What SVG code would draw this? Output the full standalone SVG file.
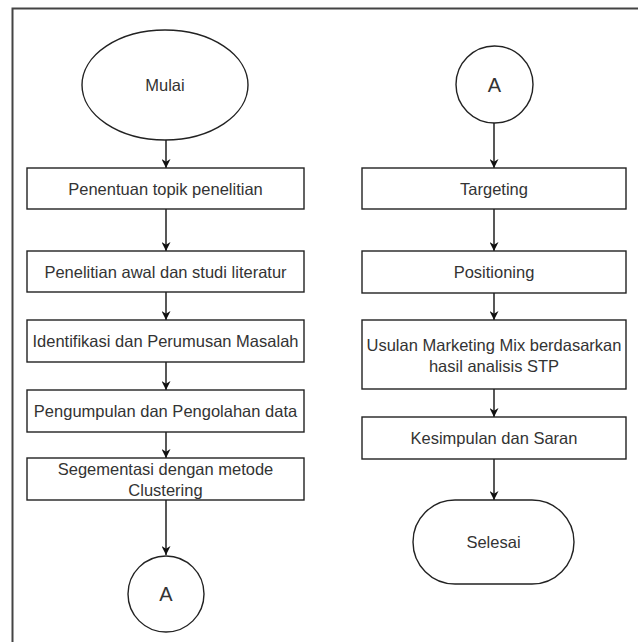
<svg xmlns="http://www.w3.org/2000/svg" width="638" height="642" viewBox="0 0 638 642">
<defs>
<style>
.s{fill:#fff;stroke:#222;stroke-width:1.4}
.t{font-family:"Liberation Sans",Arial,sans-serif;font-size:16.5px;fill:#333;text-anchor:middle;dominant-baseline:central}
.c{stroke:#111;stroke-width:1.4;fill:none;marker-end:url(#ah)}
</style>
<marker id="ah" viewBox="0 0 10 10" refX="10" refY="5" markerWidth="9" markerHeight="9" markerUnits="userSpaceOnUse" orient="auto">
<path d="M0,0 L10,5 L0,10 L3,5 Z" fill="#111"/>
</marker>
</defs>
<rect width="638" height="642" fill="#fff"/>
<g id="frame" stroke="#444" stroke-width="2" fill="none">
<path d="M12.5,642 V8.5 H638"/>
</g>
<g id="connectors">
<path class="c" d="M166,140 V168"/>
<path class="c" d="M166,209 V251"/>
<path class="c" d="M166,292 V320"/>
<path class="c" d="M166,362 V390"/>
<path class="c" d="M166,432 V458"/>
<path class="c" d="M166,500 V555"/>
<path class="c" d="M494,123 V168"/>
<path class="c" d="M494,209 V251"/>
<path class="c" d="M494,293 V320"/>
<path class="c" d="M494,389 V417"/>
<path class="c" d="M494,459 V500"/>
</g>
<g id="mulai"><ellipse class="s" cx="165" cy="85" rx="83" ry="55"/><text class="t" x="165" y="85">Mulai</text></g>
<g id="n1"><rect class="s" x="27" y="168" width="277" height="41"/><text class="t" x="165.5" y="188.5">Penentuan topik penelitian</text></g>
<g id="n2"><rect class="s" x="27" y="251" width="277" height="41"/><text class="t" x="165.5" y="271.5">Penelitian awal dan studi literatur</text></g>
<g id="n3"><rect class="s" x="27" y="320" width="277" height="42"/><text class="t" x="165.5" y="341">Identifikasi dan Perumusan Masalah</text></g>
<g id="n4"><rect class="s" x="27" y="390" width="277" height="42"/><text class="t" x="165.5" y="411">Pengumpulan dan Pengolahan data</text></g>
<g id="n5"><rect class="s" x="27" y="458" width="277" height="42"/><text class="t" x="165.5" y="469">Segementasi dengan metode</text><text class="t" x="165.5" y="490">Clustering</text></g>
<g id="a1"><circle class="s" cx="166" cy="594" r="38"/><text class="t" x="166" y="594" style="font-size:20px">A</text></g>
<g id="a2"><circle class="s" cx="494.5" cy="84.5" r="38.5"/><text class="t" x="494.5" y="84.5" style="font-size:20px">A</text></g>
<g id="r1"><rect class="s" x="362" y="168" width="264" height="41"/><text class="t" x="494" y="188.5">Targeting</text></g>
<g id="r2"><rect class="s" x="362" y="251" width="264" height="42"/><text class="t" x="494" y="272">Positioning</text></g>
<g id="r3"><rect class="s" x="362" y="320" width="264" height="69"/><text class="t" x="494" y="345">Usulan Marketing Mix berdasarkan</text><text class="t" x="494" y="366">hasil analisis STP</text></g>
<g id="r4"><rect class="s" x="362" y="417" width="264" height="42"/><text class="t" x="494" y="438">Kesimpulan dan Saran</text></g>
<g id="selesai"><rect class="s" x="413" y="500" width="161" height="84" rx="42" ry="42"/><text class="t" x="493.5" y="542">Selesai</text></g>
</svg>
